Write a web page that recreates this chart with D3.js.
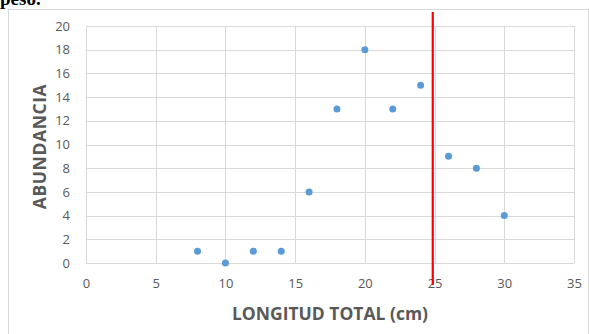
<!DOCTYPE html>
<html>
<head>
<meta charset="utf-8">
<script src="https://cdn.jsdelivr.net/npm/d3@7"></script>
<style>
  body { margin: 0; background: #fff; }
  svg { display: block; }
</style>
</head>
<body>
<svg class="chart"></svg>
<script>
// longitud total (cm) vs abundancia
const longitudes = [8, 10, 12, 14, 16, 18, 20, 22, 24, 26, 28, 30];
const abundancia = [1, 0, 1, 1, 6, 13, 18, 13, 15, 9, 8, 4];
const xTicks = [0, 5, 10, 15, 20, 25, 30, 35];
const yTicks = [0, 2, 4, 6, 8, 10, 12, 14, 16, 18, 20];
const lineaCorte = [24.87];

const canvas = {width: 589, height: 334};
const margin = {top: 26, bottom: 71, right: 15, left: 86};
const chart_dimensions = {
    width: 574 - margin.left,
    height: 263 - margin.top
};

const svg = d3.select(".chart")
    .attr("width", canvas.width)
    .attr("height", canvas.height);

// texto de arriba, cortado
svg.append("text")
    .attr("x", 0)
    .attr("y", 5)
    .attr("font-family", "Liberation Serif, serif")
    .attr("font-size", 19)
    .attr("font-weight", "bold")
    .attr("fill", "#000")
    .text("peso.");

// marco del grafico
svg.append("rect")
    .attr("x", 8.5)
    .attr("y", 9.5)
    .attr("width", 580)
    .attr("height", 340)
    .attr("fill", "none")
    .attr("stroke", "#d9d9d9");

const x = d3.scaleLinear().domain([0, 35]).range([0, chart_dimensions.width]);
const y = d3.scaleLinear().domain([0, 20]).range([chart_dimensions.height, 0]);

const chart = svg.append("g")
    .attr("transform", "translate(" + margin.left + "," + margin.top + ")");

// grid
chart.selectAll(".hgrid")
    .data(yTicks)
    .enter().append("line")
    .attr("x1", 0).attr("x2", chart_dimensions.width)
    .attr("y1", d => Math.round(y(d)) + 0.5).attr("y2", d => Math.round(y(d)) + 0.5)
    .attr("stroke", "#d9d9d9");

chart.selectAll(".vgrid")
    .data(xTicks)
    .enter().append("line")
    .attr("y1", 0).attr("y2", chart_dimensions.height)
    .attr("x1", d => Math.round(x(d)) + 0.5).attr("x2", d => Math.round(x(d)) + 0.5)
    .attr("stroke", "#d9d9d9");

// ejes
const xAxis = d3.axisBottom(x).tickValues(xTicks).tickSize(0).tickPadding(16);
const yAxis = d3.axisLeft(y).tickValues(yTicks).tickSize(0).tickPadding(16);

const gx = chart.append("g")
    .attr("transform", "translate(0," + chart_dimensions.height + ")")
    .call(xAxis);
const gy = chart.append("g").call(yAxis);

[gx, gy].forEach(g => {
    g.select(".domain").remove();
    g.selectAll("text")
        .attr("font-family", "Open Sans, sans-serif")
        .attr("font-size", 13)
        .attr("fill", "#595959");
});

// puntos
const datos = longitudes.map((l, i) => ({x: l, y: abundancia[i]}));
chart.selectAll(".punto")
    .data(datos)
    .enter().append("circle")
    .attr("cx", d => x(d.x))
    .attr("cy", d => y(d.y))
    .attr("r", 3.5)
    .attr("fill", "#5b9bd5");

// linea roja
chart.selectAll(".corte")
    .data(lineaCorte)
    .enter().append("line")
    .attr("x1", d => x(d)).attr("x2", d => x(d))
    .attr("y1", 12 - margin.top).attr("y2", 285 - margin.top)
    .attr("stroke", "#ff0000")
    .attr("stroke-width", 2.2);

// titulos
svg.append("text")
    .attr("x", margin.left + x(17.5))
    .attr("y", 320)
    .attr("text-anchor", "middle")
    .attr("font-family", "Open Sans, sans-serif")
    .attr("font-weight", "bold")
    .attr("font-size", 17.5)
    .attr("fill", "#595959")
    .text("LONGITUD TOTAL (cm)");

svg.append("text")
    .attr("transform", "translate(46," + (margin.top + y(10) + 2) + ") rotate(-90)")
    .attr("text-anchor", "middle")
    .attr("font-family", "Open Sans, sans-serif")
    .attr("font-weight", "bold")
    .attr("font-size", 17.5)
    .attr("letter-spacing", 0.6)
    .attr("fill", "#595959")
    .text("ABUNDANCIA");
</script>
</body>
</html>
